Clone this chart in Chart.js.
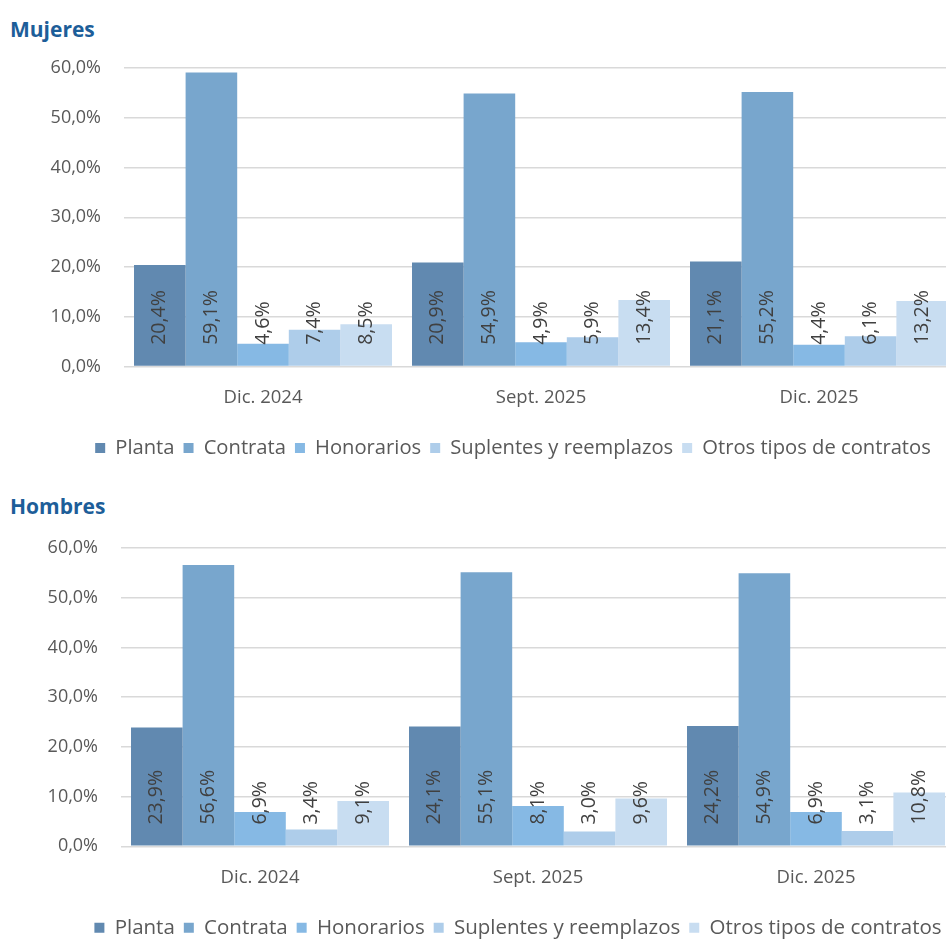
<!DOCTYPE html>
<html>
<head>
<meta charset="utf-8">
<script src="https://cdn.jsdelivr.net/npm/chart.js@4/dist/chart.umd.min.js"></script>
<style>
   html, body { margin: 0; padding: 0; background: #fff; overflow: hidden; }
   .panel { position: absolute; left: 0; width: 1026px; height: 470px; }
   .title {
      position: absolute; left: 10px;
      font-family: 'Open Sans', sans-serif; font-weight: 700; font-size: 21px;
      color: #1d5e99;
   }
</style>
</head>
<body>
<div class="title" style="top:15px">Mujeres</div>
<div class="panel" style="top:0"><canvas id="chartMujeres"></canvas></div>
<div class="title" style="top:492px">Hombres</div>
<div class="panel" style="top:480px; left:-3px"><canvas id="chartHombres"></canvas></div>
<script>
'use strict';

const periods = ['Dic. 2024', 'Sept. 2025', 'Dic. 2025'];
const contractTypes = ['Planta', 'Contrata', 'Honorarios', 'Suplentes y reemplazos', 'Otros tipos de contratos'];
const typeColors = ['#6189b0', '#78a6cd', '#86b9e4', '#aecdea', '#c8ddf1'];

// values per contract type, one entry per period
const mujeresPlanta = [20.4, 20.9, 21.1];
const mujeresContrata = [59.1, 54.9, 55.2];
const mujeresHonorarios = [4.6, 4.9, 4.4];
const mujeresSuplentes = [7.4, 5.9, 6.1];
const mujeresOtros = [8.5, 13.4, 13.2];

const hombresPlanta = [23.9, 24.1, 24.2];
const hombresContrata = [56.6, 55.1, 54.9];
const hombresHonorarios = [6.9, 8.1, 6.9];
const hombresSuplentes = [3.4, 3.0, 3.1];
const hombresOtros = [9.1, 9.6, 10.8];

const yTicks = [0, 10, 20, 30, 40, 50, 60];

const textGray = '#595959';

function pct(v) {
   return v.toFixed(1).replace('.', ',') + '%';
}

// draws the vertical value labels, anchored near the base of each bar
const barLabels = {
   id: 'barLabels',
   afterDatasetsDraw(chart) {
      const ctx = chart.ctx;
      ctx.save();
      ctx.font = '19.5px "Open Sans"';
      ctx.fillStyle = '#404040';
      ctx.textAlign = 'left';
      ctx.textBaseline = 'middle';
      chart.data.datasets.forEach(function (ds, i) {
         const meta = chart.getDatasetMeta(i);
         meta.data.forEach(function (bar, j) {
            ctx.save();
            ctx.translate(bar.x, bar.base - 21);
            ctx.rotate(-Math.PI / 2);
            ctx.fillText(pct(ds.data[j]), 0, 0);
            ctx.restore();
         });
      });
      ctx.restore();
   }
};

// the legend is centred under the visible page, not under the wider canvas
const legendShift = {
   id: 'legendShift',
   afterLayout(chart, args, opts) {
      if (chart.legend) {
         chart.legend.left += opts.dx;
         chart.legend.right += opts.dx;
      }
   }
};

function makeChart(canvasId, series, legendDx, legendSize) {
   const datasets = [];
   let i = 0;
   for (i = 0; i < contractTypes.length; i++) {
      datasets.push({
         label: contractTypes[i],
         data: series[i],
         backgroundColor: typeColors[i],
         borderWidth: 0,
         barPercentage: 1.0,
         categoryPercentage: 0.928
      });
   }
   return new Chart(document.getElementById(canvasId), {
      type: 'bar',
      data: {
         labels: periods,
         datasets: datasets
      },
      options: {
         animation: false,
         responsive: true,
         maintainAspectRatio: false,
         layout: {
            padding: { top: 68, right: 68, bottom: 2, left: 0 }
         },
         scales: {
            x: {
               grid: { display: false, drawTicks: false },
               border: { display: false },
               ticks: {
                  color: textGray,
                  padding: 20,
                  font: { family: 'Open Sans', size: 18.5 }
               }
            },
            y: {
               min: 0,
               max: 60,
               afterBuildTicks: function (scale) {
                  scale.ticks = yTicks.map(function (v) { return { value: v }; });
               },
               afterFit: function (scale) {
                  scale.width = 124;
               },
               grid: { color: '#d9d9d9', lineWidth: 1.5, drawTicks: false },
               border: { display: false },
               ticks: {
                  color: textGray,
                  padding: 23,
                  font: { family: 'Open Sans', size: 18 },
                  callback: function (v) { return pct(v); }
               }
            }
         },
         plugins: {
            legend: {
               position: 'bottom',
               labels: {
                  color: textGray,
                  boxWidth: 10,
                  boxHeight: 10,
                  padding: 9,
                  font: { family: 'Open Sans', size: legendSize }
               }
            },
            legendShift: { dx: legendDx },
            tooltip: { enabled: false }
         }
      },
      plugins: [barLabels, legendShift]
   });
}

makeChart('chartMujeres', [mujeresPlanta, mujeresContrata, mujeresHonorarios, mujeresSuplentes, mujeresOtros], 34, 20.2);
makeChart('chartHombres', [hombresPlanta, hombresContrata, hombresHonorarios, hombresSuplentes, hombresOtros], 42, 20.5);
</script>
</body>
</html>
